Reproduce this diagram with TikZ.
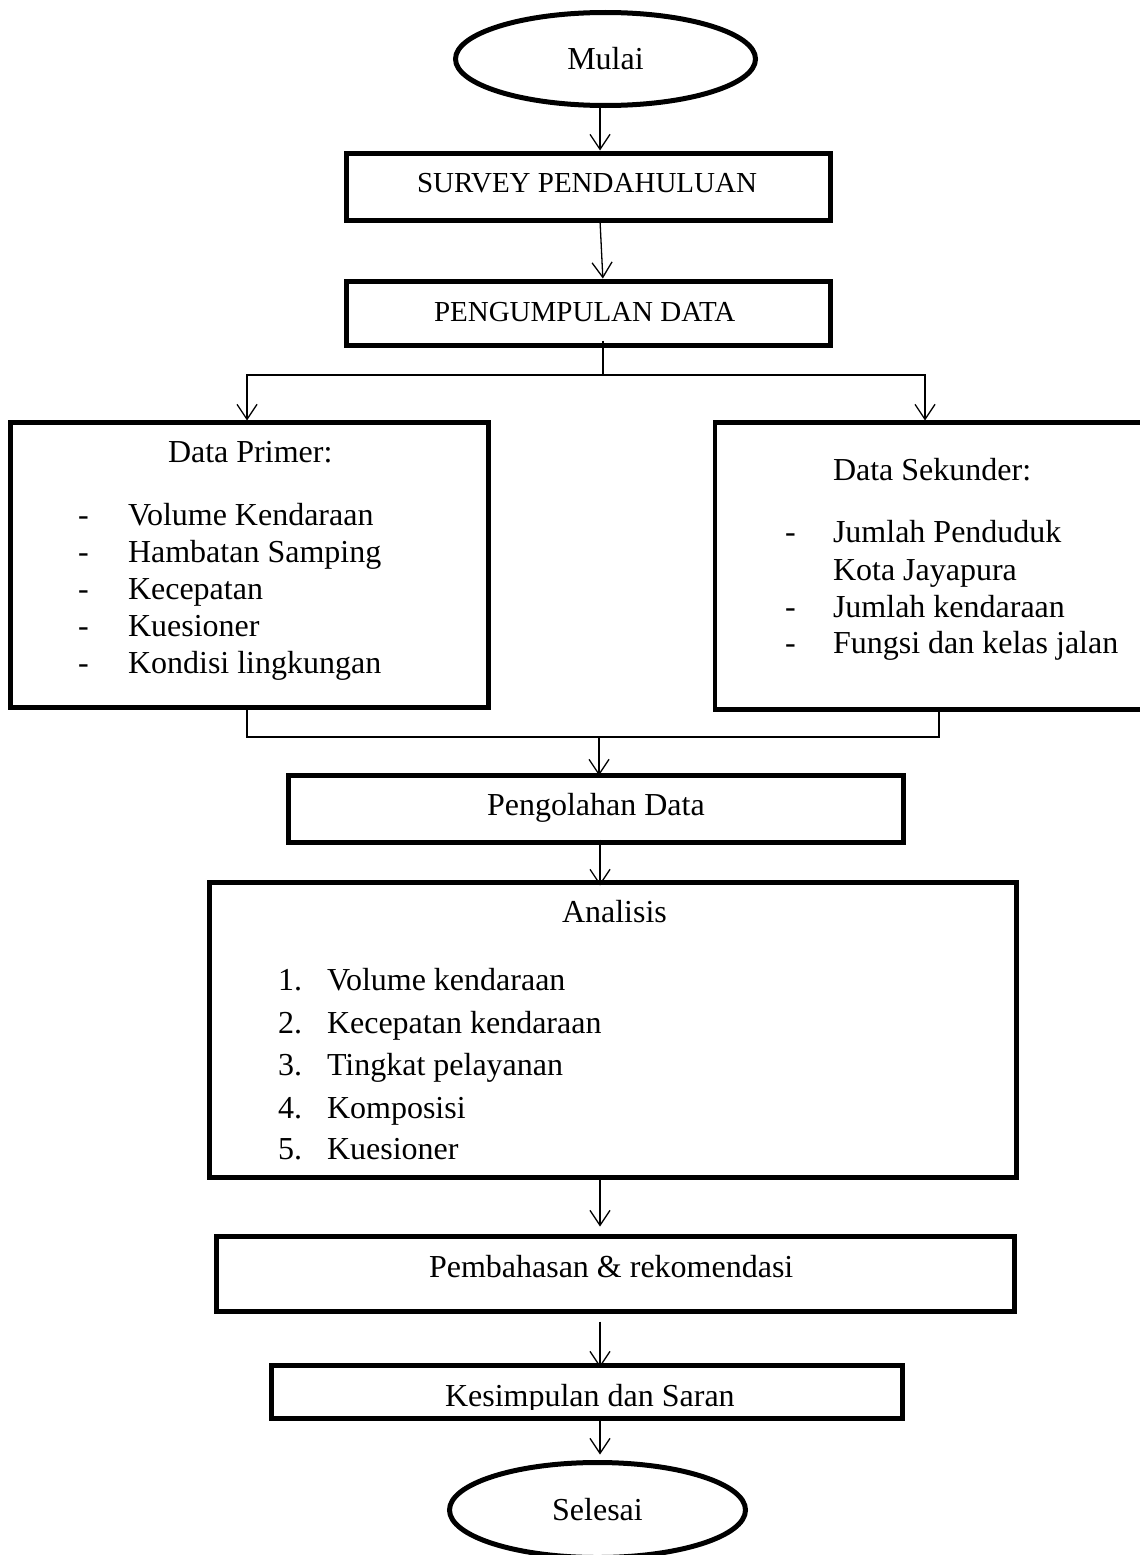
\documentclass[tikz,border=0pt]{standalone}
\usepackage{fontspec}
\setmainfont{Liberation Serif}
\usetikzlibrary{shapes.geometric,arrows.meta}
\begin{document}
\begin{tikzpicture}[x=1pt,y=-1pt,
  box/.style={draw,line width=4.6pt,rectangle,inner sep=0pt,outer sep=0pt},
  oval/.style={draw,line width=5pt,ellipse,inner sep=0pt,outer sep=0pt,font=\fontsize{32}{38}\selectfont},
  txt/.style={inner sep=0pt,outer sep=0pt,anchor=base west,font=\fontsize{32}{38}\selectfont},
  caps/.style={txt,font=\fontsize{29}{35}\selectfont},
  conn/.style={line width=1.3pt},
  arr/.style={conn,-{Straight Barb[length=15pt,width=20pt]}}
]
\useasboundingbox (0,0) rectangle (1140,1555);
\clip (0,0) rectangle (1140,1555);

% ---- shapes ----
\node[oval,minimum width=300pt,minimum height=93pt] (mulai) at (605.5,59) {Mulai};

\node[box,minimum width=484pt,minimum height=67pt] (survey) at (588.5,187) {};
\node[caps] (tsurvey) at (417,192) {SURVEY PENDAHULUAN};

\node[box,minimum width=484pt,minimum height=64pt] (kumpul) at (588.5,313.5) {};
\node[caps] (tkumpul) at (434,321) {PENGUMPULAN DATA};

\node[box,minimum width=478pt,minimum height=285pt] (primer) at (249.5,565) {};
\node[txt] (tprimer) at (168,462) {Data Primer:};
\foreach \yy/\tt [count=\i] in {525/Volume Kendaraan,562/Hambatan Samping,599/Kecepatan,636/Kuesioner,673/Kondisi lingkungan}{
  \node[txt] (pd\i) at (78,\yy) {-};
  \node[txt] (pi\i) at (128,\yy) {\tt};
}

\node[box,minimum width=445pt,minimum height=287pt] (sekunder) at (937.5,566) {};
\node[txt] (tsekunder) at (833,480) {Data Sekunder:};
\node[txt] (sd1) at (785,542) {-};
\node[txt] (si1) at (833,542) {Jumlah Penduduk};
\node[txt] (si1b) at (833,580) {Kota Jayapura};
\node[txt] (sd2) at (785,617) {-};
\node[txt] (si2) at (833,617) {Jumlah kendaraan};
\node[txt] (sd3) at (785,653) {-};
\node[txt] (si3) at (833,653) {Fungsi dan kelas jalan};

\node[box,minimum width=615pt,minimum height=67pt] (olah) at (596,809) {};
\node[txt] (tolah) at (487,815) {Pengolahan Data};

\node[box,minimum width=807pt,minimum height=295pt] (analisis) at (613,1030) {};
\node[txt] (tanalisis) at (562,922) {Analisis};
\foreach \yy/\tt [count=\i] in {990/Volume kendaraan,1033/Kecepatan kendaraan,1075/Tingkat pelayanan,1118/Komposisi,1159/Kuesioner}{
  \node[txt] (an\i) at (278,\yy) {\i.};
  \node[txt] (ai\i) at (327,\yy) {\tt};
}

\node[box,minimum width=798pt,minimum height=75pt] (bahas) at (615.5,1274) {};
\node[txt] (tbahas) at (429,1277) {Pembahasan \& rekomendasi};

\node[box,minimum width=631pt,minimum height=53pt] (simpul) at (587,1392) {};
\begin{scope}
  \clip (269,1363) rectangle (905,1409);
  \node[txt] (tsimpul) at (445,1406) {Kesimpulan dan Saran};
\end{scope}

\node[oval,minimum width=296pt,minimum height=95pt] (selesai) at (597.5,1510) {Selesai};

% ---- connectors ----
\coordinate (spine) at (600,0);
\coordinate (split) at (603,375);
\coordinate (bl) at (247,375);
\coordinate (br) at (925,375);
\coordinate (ml) at (247,737);
\coordinate (mr) at (939,737);
\coordinate (mm) at (599,737);

\draw[arr,shorten >=3pt] (mulai.south -| spine) -- (survey.north -| spine);
\draw[arr,shorten >=3pt] (survey.south -| spine) -- (kumpul.north -| split);
\draw[conn,shorten <=-5pt] (kumpul.south -| split) -- (split);
\draw[arr,shorten >=2pt] (split) -- (bl) -- (primer.north -| bl);
\draw[arr,shorten >=2pt] (split) -- (br) -- (sekunder.north -| br);
\draw[conn] (primer.south -| ml) -- (ml) -- (mr) -- (sekunder.south -| mr);
\draw[arr] (mm) -- (olah.north -| mm);
\draw[arr,shorten <=-3pt,shorten >=-3pt] (olah.south -| spine) -- (analisis.north -| spine);
\draw[arr,shorten >=10pt] (analisis.south -| spine) -- (bahas.north -| spine);
\draw[arr,shorten <=10pt,shorten >=-2pt] (bahas.south -| spine) -- (simpul.north -| spine);
\draw[arr,shorten >=8pt] (simpul.south -| spine) -- (selesai.north -| spine);
\end{tikzpicture}
\end{document}
